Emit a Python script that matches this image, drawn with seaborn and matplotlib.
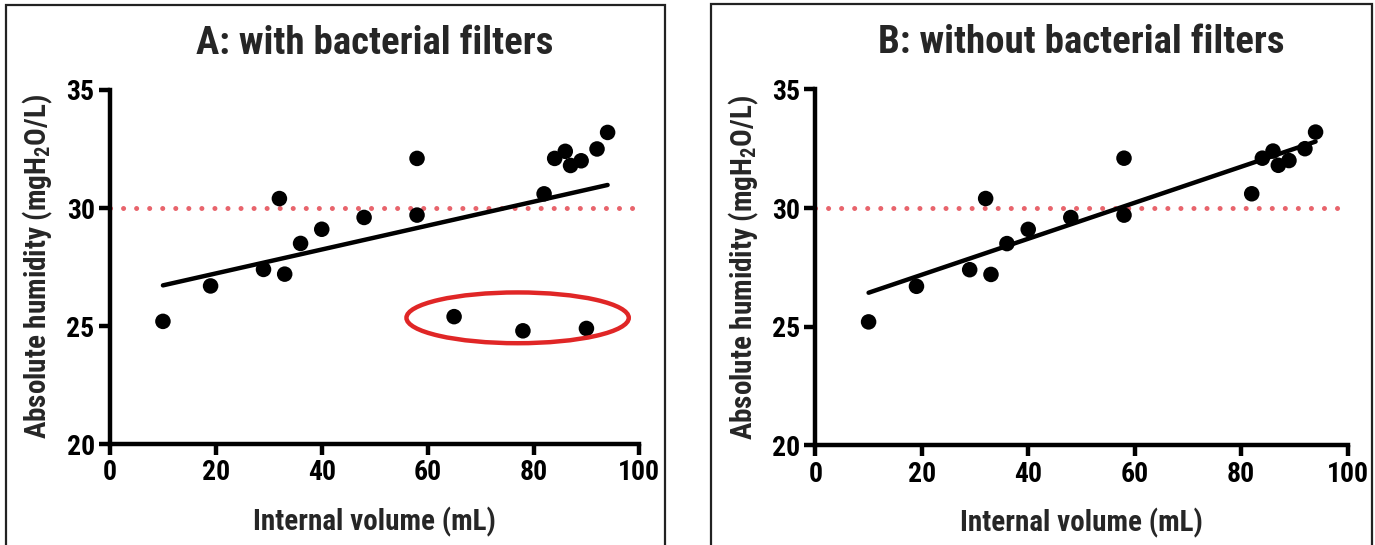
import matplotlib
matplotlib.use("Agg")
import matplotlib.pyplot as plt
import seaborn as sns
import pandas as pd
from matplotlib import font_manager
from matplotlib.patches import Ellipse, Rectangle

# data
volume = [10, 19, 29, 32, 33, 36, 40, 48, 58, 58, 65, 78, 90, 82, 84, 86, 87, 89, 92, 94]
humidity = [25.2, 26.7, 27.4, 30.4, 27.2, 28.5, 29.1, 29.6, 32.1, 29.7,
            25.4, 24.8, 24.9, 30.6, 32.1, 32.4, 31.8, 32.0, 32.5, 33.2]
outliers = [10, 11, 12]  # points in the red circle, only in panel A
threshold = 30
titles = ["A: with bacterial filters", "B: without bacterial filters"]
x_ticks = [0, 20, 40, 60, 80, 100]
y_ticks = [20, 25, 30, 35]

sns.set_style("white")
installed = {f.name for f in font_manager.fontManager.ttflist}
family = [f for f in ["Roboto Condensed", "Liberation Sans Narrow", "DejaVu Sans Condensed",
                      "Liberation Sans"] if f in installed][0]
plt.rcParams["font.family"] = [family, "DejaVu Sans"]
plt.rcParams["font.weight"] = "bold"

df_a = pd.DataFrame({"volume": volume, "humidity": humidity})
df_b = df_a.drop(index=outliers).reset_index(drop=True)

fig = plt.figure(figsize=(13.75, 5.45), dpi=100)
ax_a = fig.add_axes([0.080, 0.185, 0.385, 0.650])
ax_b = fig.add_axes([0.593, 0.183, 0.387, 0.653])

# panel frames
fig.patches.append(Rectangle((0.0044, -0.05), 0.479, 1.04, transform=fig.transFigure,
                             fill=False, ec="#222222", lw=1.6))
fig.patches.append(Rectangle((0.517, -0.05), 0.481, 1.043, transform=fig.transFigure,
                             fill=False, ec="#222222", lw=1.6))

for ax, df, title in [(ax_a, df_a, titles[0]), (ax_b, df_b, titles[1])]:
    ax.axhline(threshold, xmin=0, xmax=1, color="#e8646c", lw=3.6,
               linestyle=(0, (0.01, 2.6)), dash_capstyle="round", zorder=1)
    sns.regplot(data=df, x="volume", y="humidity", ax=ax, ci=None,
                scatter_kws={"s": 125, "color": "black", "alpha": 1,
                             "edgecolor": "none", "zorder": 3},
                line_kws={"color": "black", "lw": 3.2, "zorder": 2})
    ax.set_xlim(0, 100)
    ax.set_ylim(20, 35)
    ax.set_xticks(x_ticks)
    ax.set_yticks(y_ticks)
    sns.despine(ax=ax)
    for s in ["left", "bottom"]:
        ax.spines[s].set_linewidth(3.2)
        ax.spines[s].set_color("black")
    ax.tick_params(axis="both", direction="out", length=8, width=3.2, colors="black",
                   labelsize=20, pad=3, left=True, bottom=True)
    for lab in ax.get_xticklabels() + ax.get_yticklabels():
        lab.set_fontweight("bold")
    ax.set_xlabel("Internal volume (mL)", fontsize=21, fontweight="bold", labelpad=15)
    ax.set_ylabel(r"Absolute humidity (mgH$\mathregular{_2}$O/L)", fontsize=21,
                  fontweight="bold", labelpad=8)
    ax.set_title(title, fontsize=28, fontweight="bold", pad=26)

ax_a.add_patch(Ellipse((77, 25.35), 42, 2.15, fill=False, ec="#e02626", lw=3.2, zorder=4))

fig.savefig("out.png", dpi=100)
